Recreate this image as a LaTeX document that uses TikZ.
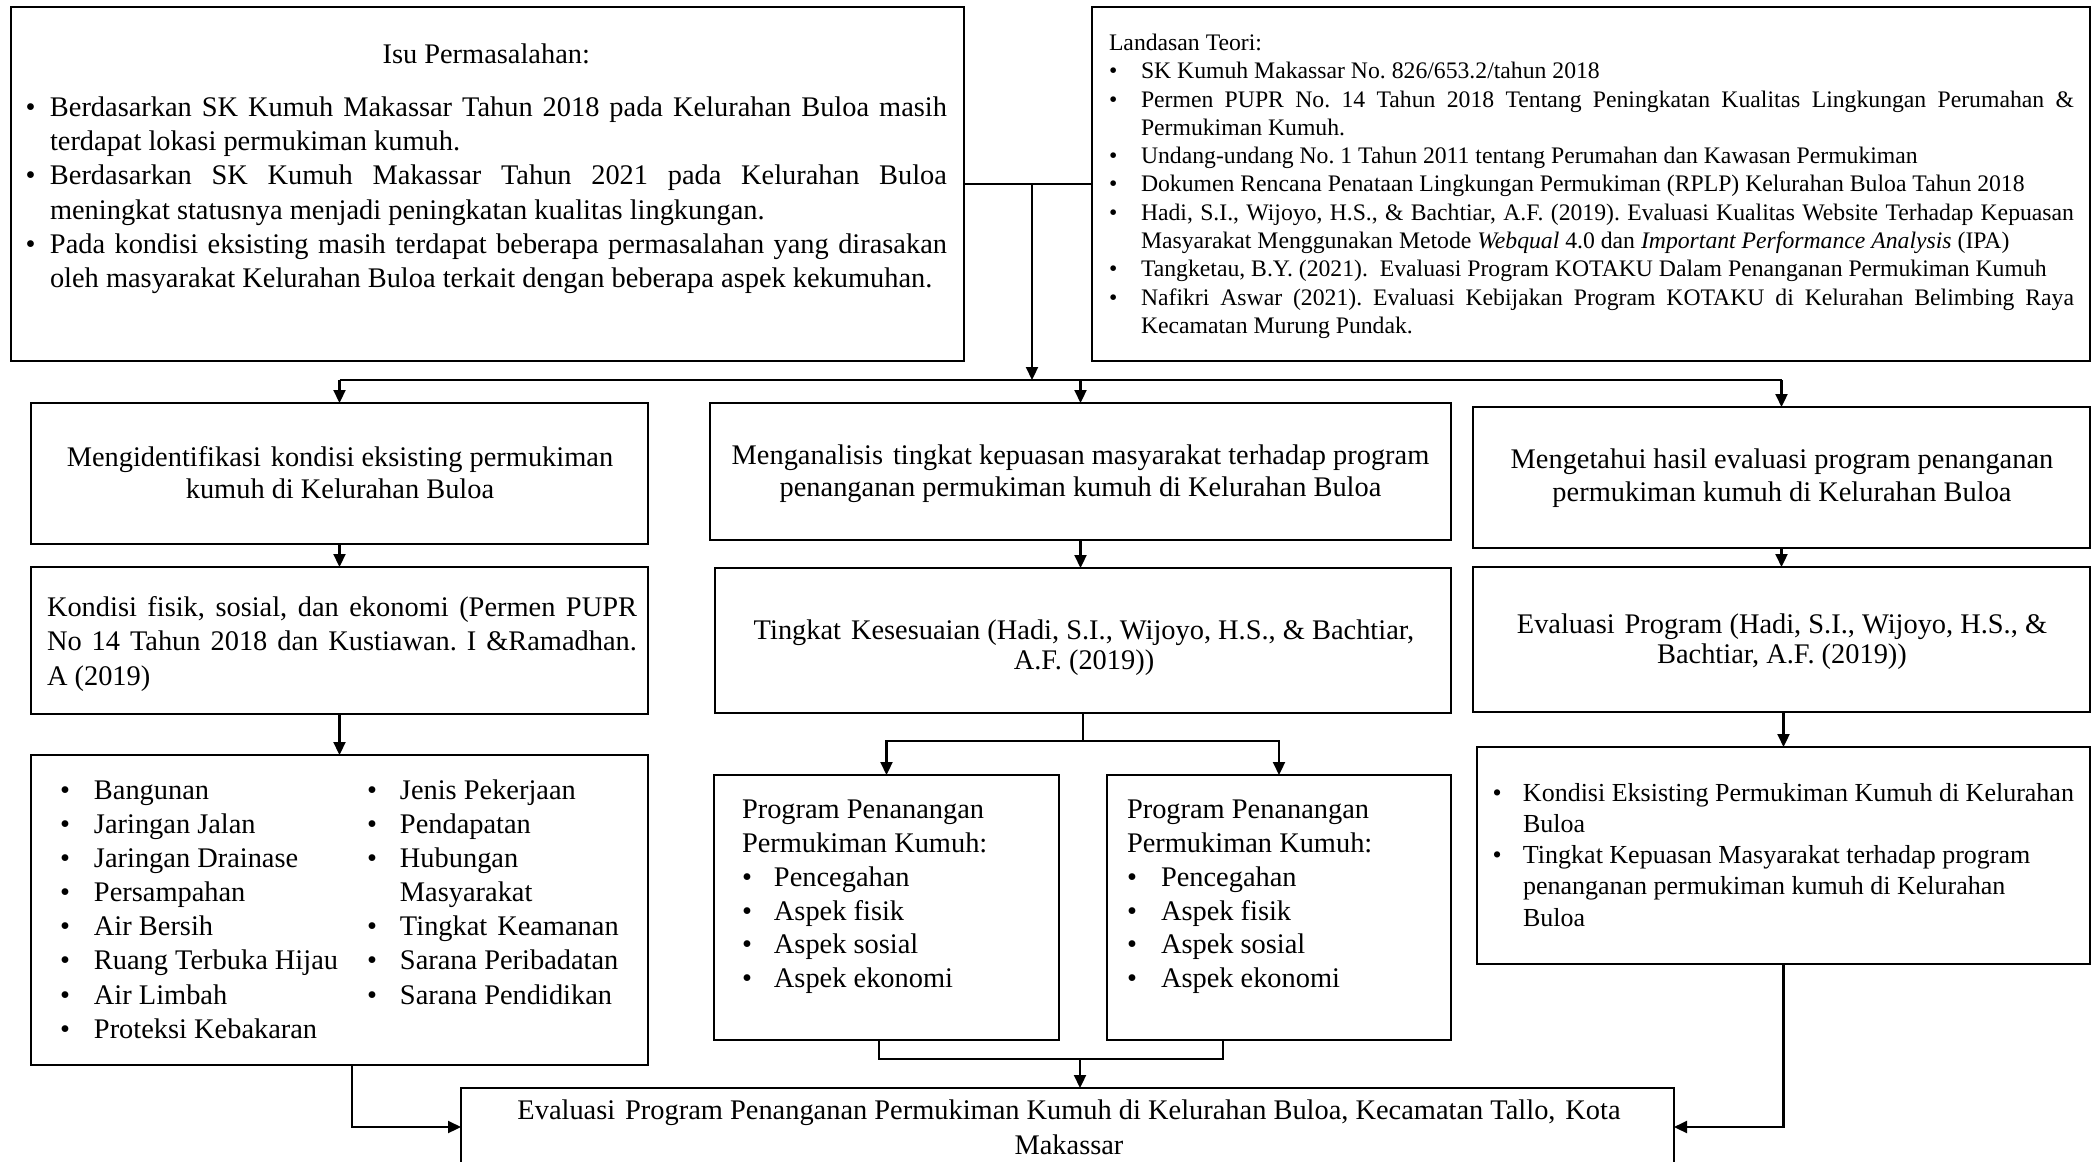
\documentclass[tikz,border=0pt]{standalone}
\usepackage{fontspec}
\setmainfont{Liberation Serif}
\usetikzlibrary{arrows.meta,fit,calc}
\frenchspacing
\newlength\myBo \newlength\myBw \newlength\myLw
\newcommand\Pline[2][l]{\par\noindent\strut\makebox[\myLw][#1]{#2}}
\newcommand\Bul[2][s]{\par\noindent\strut\hspace*{\myBo}\makebox[\myBw][l]{\textbullet}\makebox[\dimexpr\myLw-\myBo-\myBw\relax][#1]{#2}}
\newcommand\Cnt[2][l]{\par\noindent\strut\hspace*{\dimexpr\myBo+\myBw\relax}\makebox[\dimexpr\myLw-\myBo-\myBw\relax][#1]{#2}}
\newcommand\Blk[4]{\setlength\myLw{#1}\setlength\myBo{#2}\setlength\myBw{#3}\parbox[t]{\myLw}{#4}}
\newcommand\ws{\ \hspace{0.1em}}
\begin{document}
\begin{tikzpicture}[x=0.5pt,y=-0.5pt,
  box/.style={draw,line width=1.1pt,inner sep=0pt,outer sep=0pt},
  txt/.style={inner sep=0pt,outer sep=0pt,font=\fontsize{14.2}{17.1}\selectfont},
  conn/.style={line width=1.1pt},
  arr/.style={line width=1.1pt,-{Triangle[length=6.5pt,width=6pt]}}]
\fill[white] (0,0) rectangle (2094,1162);
\useasboundingbox (0,0) rectangle (2094,1162);

% boxes
\node[box,fit={(11,7)(964,361)}] (isu) {};
\node[box,fit={(1092,7)(2090,361)}] (lan) {};
\node[box,fit={(31,403)(648,544)}] (b1) {};
\node[box,fit={(710,403)(1451,540)}] (b2) {};
\node[box,fit={(1473,407)(2090,548)}] (b3) {};
\node[box,fit={(31,567)(648,714)}] (c1) {};
\node[box,fit={(715,568)(1451,713)}] (c2) {};
\node[box,fit={(1473,567)(2090,712)}] (c3) {};
\node[box,fit={(31,755)(648,1065)}] (d1) {};
\node[box,fit={(714,775)(1059,1040)}] (d2a) {};
\node[box,fit={(1107,775)(1451,1040)}] (d2b) {};
\node[box,fit={(1477,747)(2090,964)}] (d3) {};
\node[box,fit={(461,1088)(1674,1166)}] (e) {};

% texts
\node[txt,anchor=west] (isuT) at (25.5,168.6) {\Blk{460.75pt}{0pt}{12.25pt}{%
\Pline[c]{Isu Permasalahan:}\par\vspace{9.4pt}%
\Bul{Berdasarkan SK Kumuh Makassar Tahun 2018 pada Kelurahan Buloa masih}%
\Cnt{terdapat lokasi permukiman kumuh.}%
\Bul{Berdasarkan SK Kumuh Makassar Tahun 2021 pada Kelurahan Buloa}%
\Cnt{meningkat statusnya menjadi peningkatan kualitas lingkungan.}%
\Bul{Pada kondisi eksisting masih terdapat beberapa permasalahan yang dirasakan}%
\Cnt{oleh masyarakat Kelurahan Buloa terkait dengan beberapa aspek kekumuhan.}}};

\node[txt,anchor=west,font=\fontsize{11.85}{14.15}\selectfont] (lanT) at (1109,186.3) {\Blk{482.5pt}{0pt}{16pt}{%
\Pline{Landasan Teori:}%
\Bul[l]{SK Kumuh Makassar No. 826/653.2/tahun 2018}%
\Bul{Permen PUPR No. 14 Tahun 2018 Tentang Peningkatan Kualitas Lingkungan Perumahan \&}%
\Cnt{Permukiman Kumuh.}%
\Bul[l]{Undang-undang No. 1 Tahun 2011 tentang Perumahan dan Kawasan Permukiman}%
\Bul[l]{Dokumen Rencana Penataan Lingkungan Permukiman (RPLP) Kelurahan Buloa Tahun 2018}%
\Bul{Hadi, S.I., Wijoyo, H.S., \& Bachtiar, A.F. (2019). Evaluasi Kualitas Website Terhadap Kepuasan}%
\Cnt{Masyarakat Menggunakan Metode \textit{Webqual} 4.0 dan \textit{Important Performance Analysis} (IPA)}%
\Bul[l]{Tangketau, B.Y. (2021).\ \ Evaluasi Program KOTAKU Dalam Penanganan Permukiman Kumuh}%
\Bul{Nafikri Aswar (2021). Evaluasi Kebijakan Program KOTAKU di Kelurahan Belimbing Raya}%
\Cnt{Kecamatan Murung Pundak.}}};

\node[txt,font=\fontsize{14.2}{16.2}\selectfont] (b1T) at (340,476) {\Blk{300pt}{0pt}{0pt}{%
\Pline[c]{Mengidentifikasi\ws kondisi eksisting permukiman}%
\Pline[c]{kumuh di Kelurahan Buloa}}};
\node[txt,font=\fontsize{14.2}{16.2}\selectfont] (b2T) at (1080.5,474) {\Blk{365pt}{0pt}{0pt}{%
\Pline[c]{Menganalisis\ws tingkat kepuasan masyarakat terhadap program}%
\Pline[c]{penanganan permukiman kumuh di Kelurahan Buloa}}};
\node[txt,font=\fontsize{14.2}{16.5}\selectfont] (b3T) at (1782,478.5) {\Blk{300pt}{0pt}{0pt}{%
\Pline[c]{Mengetahui hasil evaluasi program penanganan}%
\Pline[c]{permukiman kumuh di Kelurahan Buloa}}};

\node[txt,anchor=west,font=\fontsize{14.2}{17.2}\selectfont] (c1T) at (47,644) {\Blk{295pt}{0pt}{0pt}{%
\Pline[s]{Kondisi fisik, sosial, dan ekonomi (Permen PUPR}%
\Pline[s]{No 14 Tahun 2018 dan Kustiawan. I \&Ramadhan.}%
\Pline{A (2019)}}};
\node[txt,font=\fontsize{14.2}{15}\selectfont] (c2T) at (1084,648) {\Blk{365pt}{0pt}{0pt}{%
\Pline[c]{Tingkat\ws Kesesuaian (Hadi, S.I., Wijoyo, H.S., \& Bachtiar,}%
\Pline[c]{A.F. (2019))}}};
\node[txt,font=\fontsize{14.2}{15}\selectfont] (c3T) at (1782,642) {\Blk{300pt}{0pt}{0pt}{%
\Pline[c]{Evaluasi\ws Program (Hadi, S.I., Wijoyo, H.S., \&}%
\Pline[c]{Bachtiar, A.F. (2019))}}};

\node[txt,anchor=west,font=\fontsize{14.2}{17.05}\selectfont] (d1T) at (60,912) {%
\Blk{153.5pt}{0pt}{17pt}{%
\Bul[l]{Bangunan}\Bul[l]{Jaringan Jalan}\Bul[l]{Jaringan Drainase}\Bul[l]{Persampahan}%
\Bul[l]{Air Bersih}\Bul[l]{Ruang Terbuka Hijau}\Bul[l]{Air Limbah}\Bul[l]{Proteksi Kebakaran}}%
\Blk{135pt}{0pt}{16.5pt}{%
\Bul[l]{Jenis Pekerjaan}\Bul[l]{Pendapatan}\Bul[l]{Hubungan}\Cnt{Masyarakat}%
\Bul[l]{Tingkat\ws Keamanan}\Bul[l]{Sarana Peribadatan}\Bul[l]{Sarana Pendidikan}}};

\node[txt,anchor=west,font=\fontsize{14.2}{16.9}\selectfont] (d2aT) at (742,896.5) {\Blk{155pt}{0pt}{16pt}{%
\Pline{Program Penanangan}\Pline{Permukiman Kumuh:}%
\Bul[l]{Pencegahan}\Bul[l]{Aspek fisik}\Bul[l]{Aspek sosial}\Bul[l]{Aspek ekonomi}}};
\node[txt,anchor=west,font=\fontsize{14.2}{16.9}\selectfont] (d2bT) at (1127,896.5) {\Blk{155pt}{0pt}{17pt}{%
\Pline{Program Penanangan}\Pline{Permukiman Kumuh:}%
\Bul[l]{Pencegahan}\Bul[l]{Aspek fisik}\Bul[l]{Aspek sosial}\Bul[l]{Aspek ekonomi}}};

\node[txt,anchor=west,font=\fontsize{13}{15.6}\selectfont] (d3T) at (1492.5,857.5) {\Blk{290pt}{0pt}{15.25pt}{%
\Bul[l]{Kondisi Eksisting Permukiman Kumuh di Kelurahan}\Cnt{Buloa}%
\Bul[l]{Tingkat Kepuasan Masyarakat terhadap program}%
\Cnt{penanganan permukiman kumuh di Kelurahan}\Cnt{Buloa}}};

\node[txt,font=\fontsize{14.2}{17.5}\selectfont] (eT) at (1069,1129.5) {\Blk{600pt}{0pt}{0pt}{%
\Pline[c]{Evaluasi\ws Program Penanganan Permukiman Kumuh di Kelurahan Buloa, Kecamatan Tallo,\ws Kota}%
\Pline[c]{Makassar}}};

% connectors
\draw[conn] (isu.east) -- (lan.west);
\coordinate (j) at (1032,184);
\coordinate (bus) at (0,380);
\draw[arr] (j) -- (j |- bus);
\draw[conn] (b1.north |- bus) -- (b3.north |- bus);
\draw[arr] (b1.north |- bus) -- (b1.north);
\draw[arr] (b2.north |- bus) -- (b2.north);
\draw[arr] (b3.north |- bus) -- (b3.north);
\draw[arr] (b1.south) -- (c1.north);
\draw[arr] (b2.south) -- (b2.south |- c2.north);
\draw[arr] (b3.south) -- (c3.north);
\draw[arr] (c1.south) -- (d1.north);
\path (c2.south) ++(0,28) coordinate (sp);
\draw[conn] (c2.south) -- (sp);
\draw[arr] (sp) -| (d2a.north);
\draw[arr] (sp) -| (d2b.north);
\draw[arr] (d3.north |- c3.south) -- (d3.north);
\coordinate (mg) at (1080,1059);
\draw[conn] ([xshift=-3.75pt]d2a.south) |- (mg) -| ([xshift=-28pt]d2b.south);
\draw[arr] (mg) -- (mg |- e.north);
\draw[arr] ([xshift=6.25pt]d1.south) |- (e.west);
\draw[arr] (d3.south) |- (e.east);
\end{tikzpicture}
\end{document}
